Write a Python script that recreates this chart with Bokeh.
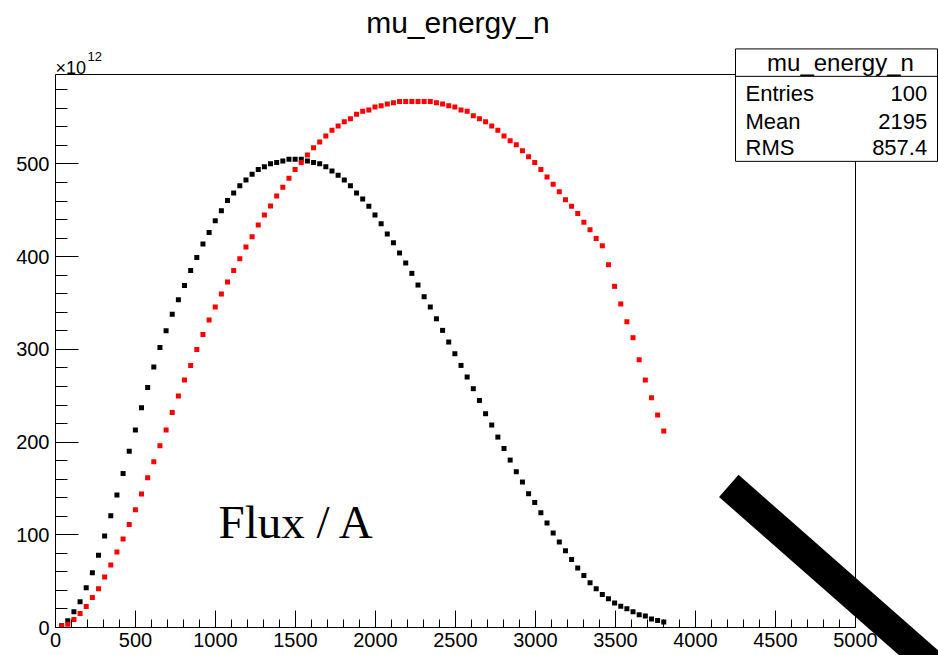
from bokeh.plotting import figure
from bokeh.models import (Range1d, SingleIntervalTicker, FixedTicker, LinearAxis, Label,
                          ColumnDataSource)
from bokeh.core.properties import value
from bokeh.embed import file_html
from bokeh.resources import INLINE

# ---------------- data ----------------
title_text = "mu_energy_n"
bin_width = 38.4

black_vals = [1.8, 7.2, 17, 27.7, 43, 59, 78, 98.6, 120.5, 142.8,
              166, 190, 213, 237, 259, 281, 302, 320, 338, 353.6,
              369, 385, 399, 413.7, 426, 438.8, 449.6, 460.7, 468.7, 476.6,
              482.7, 489, 493.9, 497, 500.3, 501.7, 503.2, 505, 505, 505,
              503.2, 501.7, 500.3, 497, 492.4, 487.7, 482.7, 476.6, 468.7, 462.2,
              454.3, 445, 435.6, 424.5, 415, 404, 393.2, 382, 369.4, 356.8,
              345.7, 333, 320.5, 307.9, 295.3, 282.7, 270.2, 257.6, 244.9, 230.6,
              218.4, 205.4, 193.1, 180.6, 168, 156.9, 144.3, 134.9, 123.8, 112.6,
              101.9, 92.1, 82.8, 73.4, 64.1, 56.1, 48.2, 41.8, 35.6, 31,
              26.3, 23, 20.2, 16.9, 13.7, 12.3, 9.1, 7.6, 5.8]

red_vals = [1.0, 3.6, 8.6, 15, 22.7, 32.4, 41.8, 54.4, 67.3, 81.4,
            95.4, 111, 127, 144, 161.5, 178.8, 196, 213, 232, 249.7,
            267, 282.7, 300, 316, 331.7, 345.7, 359.7, 372.7, 385.2, 397.8,
            410.4, 421.5, 434.2, 445, 454.7, 465.5, 475, 484.5, 493.9, 501.7,
            509.7, 517.6, 523.7, 530.2, 536.3, 541, 545.6, 548.9, 553.5, 556.8,
            558.3, 561.5, 562.9, 564.7, 566.1, 567.5, 567.5, 567.5, 567.5, 567.5,
            567.5, 566.1, 564.7, 562.9, 561.5, 558.3, 556.8, 552.1, 548.9, 545.6,
            541, 536.3, 530.2, 525.1, 520.8, 514.3, 507.9, 501.7, 493.9, 486,
            478, 470.1, 461.5, 454.5, 446.5, 437, 429.1, 419.7, 411.8, 391.3,
            368, 349, 329.8, 312.6, 288.8, 266.9, 247.8, 229.2, 211.9]

energy = [round(bin_width * (i + 1), 2) for i in range(len(black_vals))]

x_ticks_major = 500
y_ticks_major = 100
stats_names = ["Entries", "Mean", "RMS"]
stats_values = ["100", "2195", "857.4"]
multiplier_base = "\u00d710"
multiplier_exp = "12"
annotation_text = "Flux / A"

# ---------------- figure ----------------
X_MAX = 5000
Y_MAX = 596.5
FONT = "Liberation Sans"

p = figure(width=938, height=655, output_backend="svg", toolbar_location=None,
           x_range=Range1d(0, X_MAX), y_range=Range1d(0, Y_MAX),
           x_axis_type=None, y_axis_type=None,
           min_border_left=55, min_border_right=83, min_border_top=74, min_border_bottom=28)
p.outline_line_color = None
p.background_fill_color = "white"
p.border_fill_color = "white"

xaxis = LinearAxis(ticker=SingleIntervalTicker(interval=x_ticks_major, num_minor_ticks=5))
yaxis = LinearAxis(ticker=SingleIntervalTicker(interval=y_ticks_major, num_minor_ticks=5))
for ax in (xaxis, yaxis):
    ax.axis_line_color = "black"
    ax.axis_line_width = 1
    ax.major_tick_line_color = "black"
    ax.minor_tick_line_color = "black"
    ax.major_tick_out = 0
    ax.minor_tick_out = 0
    ax.major_label_text_font = FONT
    ax.major_label_text_font_size = "20px"
    ax.major_label_text_color = "black"
xaxis.major_tick_in = 17
xaxis.minor_tick_in = 8
xaxis.major_label_standoff = 5
yaxis.major_tick_in = 23
yaxis.minor_tick_in = 12
yaxis.major_label_standoff = 6
p.add_layout(xaxis, "below")
p.add_layout(yaxis, "left")

# top and right frame lines
for side in ("above", "right"):
    fa = LinearAxis(ticker=FixedTicker(ticks=[]))
    fa.axis_line_color = "black"
    fa.major_tick_in = 0
    fa.major_tick_out = 0
    fa.minor_tick_in = 0
    fa.minor_tick_out = 0
    fa.major_label_text_font_size = "0px"
    p.add_layout(fa, side)

src = ColumnDataSource(dict(energy=energy, black=black_vals, red=red_vals))
p.scatter(x="energy", y="black", source=src, marker="square", size=5,
          fill_color="black", line_color=None)
p.scatter(x="energy", y="red", source=src, marker="square", size=5,
          fill_color="#ff0000", line_color=None)

# text annotation inside the frame
p.add_layout(Label(x=1018.75, y=114.2, text=annotation_text, text_align="left",
                   text_baseline="middle", text_font="Liberation Serif",
                   text_font_size="47px", text_color="black"))

# ---- elements outside the frame (overlay level, not clipped) ----
# title
p.text(x=[2515], y=[652.5], text=[title_text], text_align="center", text_baseline="middle",
       text_font=value(FONT), text_font_size=value("30px"), text_color="black",
       level="overlay")
# exponent
p.text(x=[0], y=[603.7], text=[multiplier_base], text_align="left", text_baseline="middle",
       text_font=value(FONT), text_font_size=value("18px"), text_color="black",
       level="overlay")
p.text(x=[200], y=[616], text=[multiplier_exp], text_align="left", text_baseline="middle",
       text_font=value(FONT), text_font_size=value("13px"), text_color="black",
       level="overlay")

# stats box
p.quad(left=[4250], right=[5512.5], top=[624.1], bottom=[502.8],
       fill_color="white", fill_alpha=1.0, line_color="black", line_width=1,
       level="overlay")
p.segment(x0=[4250], y0=[594.5], x1=[5512.5], y1=[594.5], line_color="black",
          line_width=1, level="overlay")
p.text(x=[4906], y=[609.6], text=[title_text], text_align="center", text_baseline="middle",
       text_font=value(FONT), text_font_size=value("24px"), text_color="black",
       level="overlay")
row_y = [575.5, 545.6, 517.3]
p.text(x=[4312.5] * 3, y=row_y, text=stats_names, text_align="left", text_baseline="middle",
       text_font=value(FONT), text_font_size=value("22px"), text_color="black",
       level="overlay")
p.text(x=[5448] * 3, y=row_y, text=stats_values, text_align="right", text_baseline="middle",
       text_font=value(FONT), text_font_size=value("22px"), text_color="black",
       level="overlay")

# thick diagonal bar
p.segment(x0=[4208], y0=[152.7], x1=[5617], y1=[-61], line_color="black",
          line_width=29.5, level="overlay")

open("out.html", "w").write(file_html(p, INLINE))
